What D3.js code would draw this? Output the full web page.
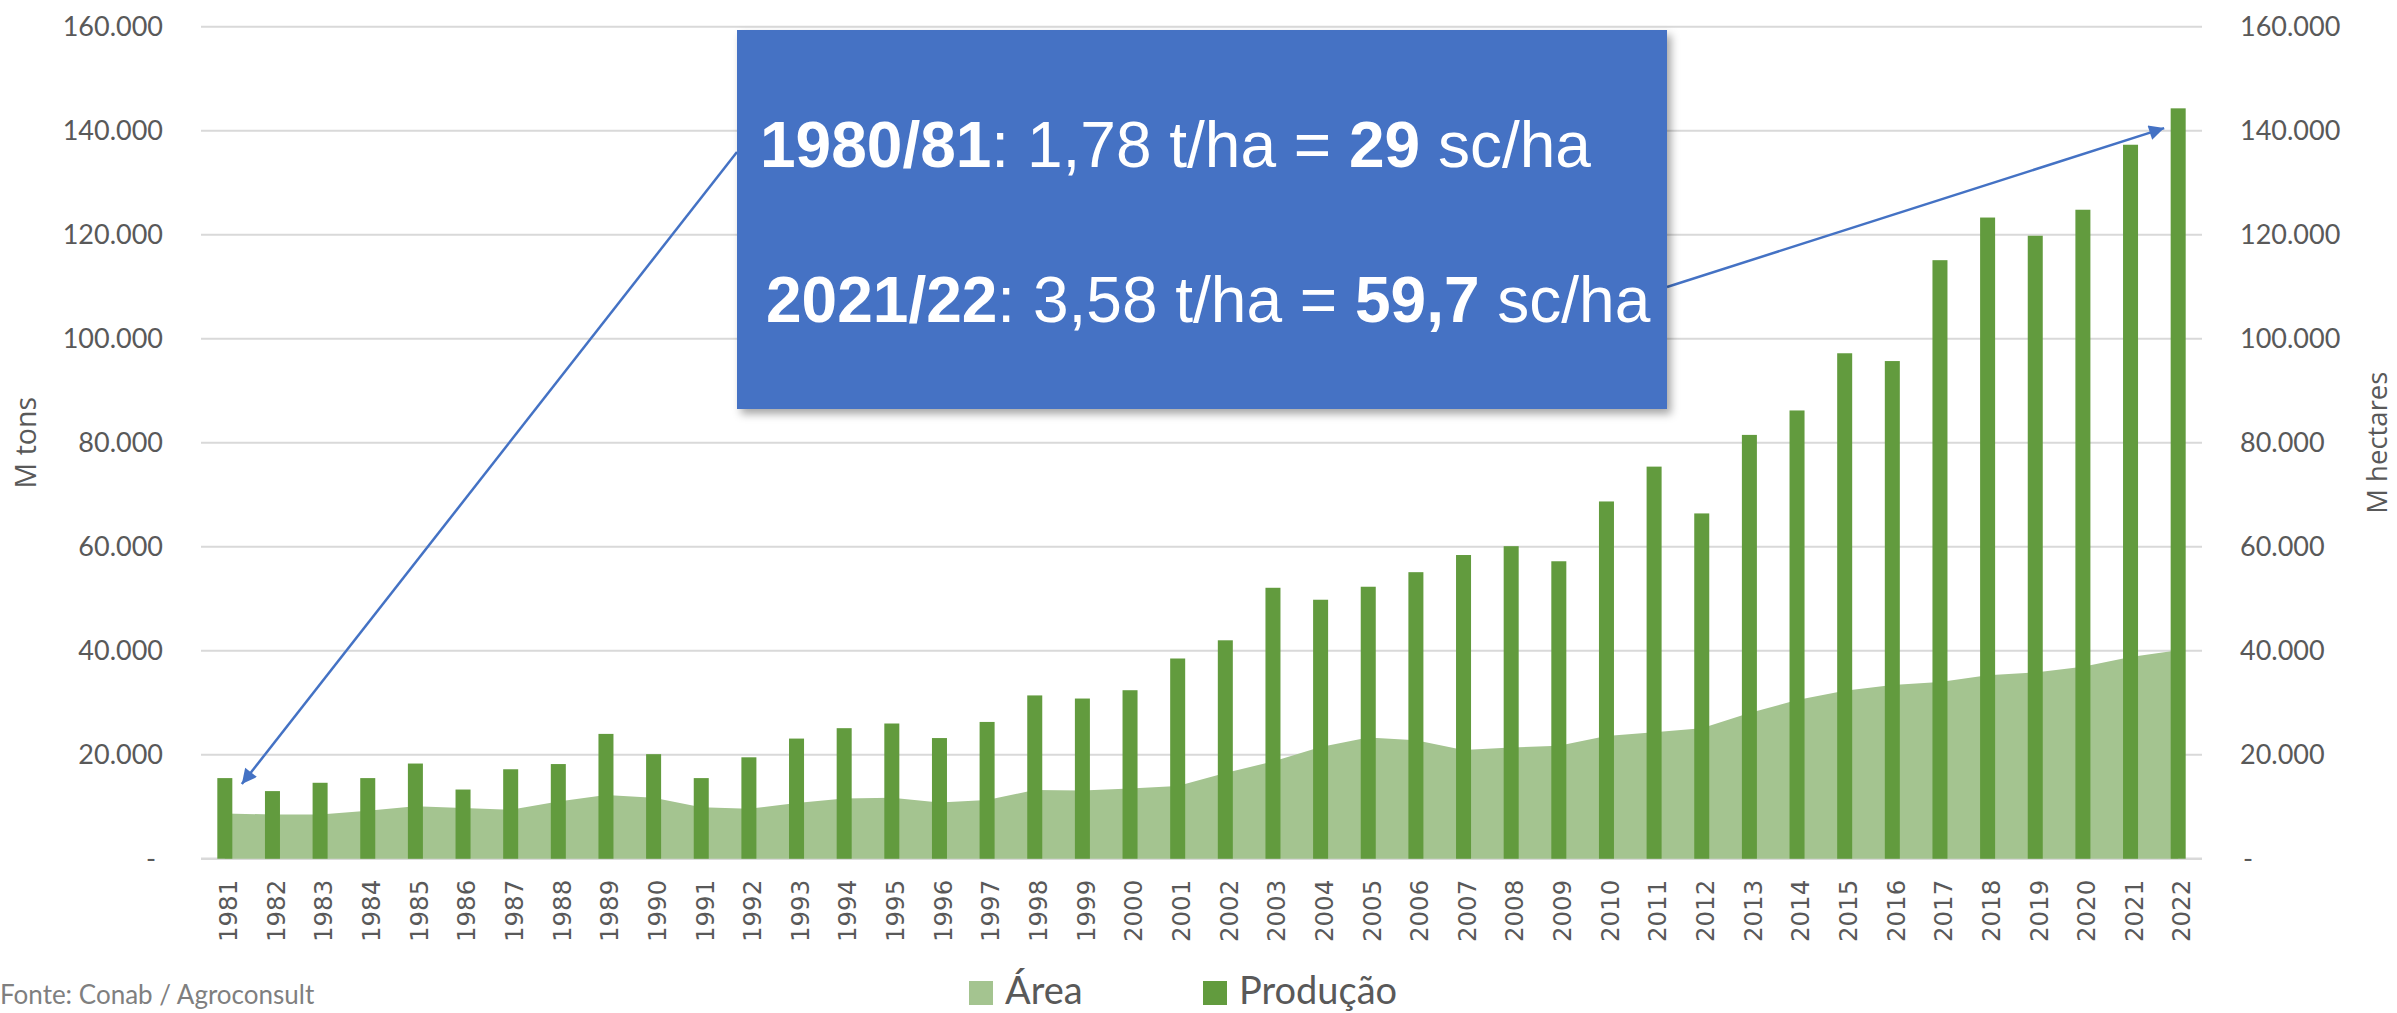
<!DOCTYPE html>
<html>
<head>
<meta charset="utf-8">
<script src="https://cdn.jsdelivr.net/npm/d3@7"></script>
<style>
  body { margin: 0; background: #ffffff; }
  svg { display: block; }
</style>
</head>
<body>
<div id="chart"></div>
<script>
// categories (safra years) and values
const years = [1981, 1982, 1983, 1984, 1985, 1986, 1987, 1988, 1989, 1990,
  1991, 1992, 1993, 1994, 1995, 1996, 1997, 1998, 1999, 2000,
  2001, 2002, 2003, 2004, 2005, 2006, 2007, 2008, 2009, 2010,
  2011, 2012, 2013, 2014, 2015, 2016, 2017, 2018, 2019, 2020,
  2021, 2022];

// Produção (mil t) - bars
const producao = [15500, 13000, 14600, 15500, 18300, 13300, 17200, 18200, 24000, 20100,
  15500, 19500, 23100, 25100, 26000, 23200, 26300, 31400, 30800, 32400,
  38500, 42000, 52100, 49800, 52300, 55100, 58400, 60100, 57200, 68700,
  75400, 66400, 81500, 86200, 97200, 95700, 115100, 123300, 119800, 124800,
  137300, 144300];

// Área (mil ha) - area
const area = [8700, 8500, 8500, 9200, 10100, 9750, 9400, 11000, 12250, 11700,
  9900, 9600, 10700, 11600, 11700, 10800, 11300, 13200, 13100, 13500,
  14000, 16500, 18700, 21500, 23300, 22800, 20900, 21400, 21700, 23600,
  24300, 25100, 28000, 30500, 32300, 33400, 34000, 35300, 35800, 36900,
  38800, 40100];

const yTicks = [0, 20000, 40000, 60000, 80000, 100000, 120000, 140000, 160000];
const legendNames = ['Área', 'Produção'];
const noteLines = [
  [['1980/81', true], [': 1,78 t/ha = ', false], ['29', true], [' sc/ha', false]],
  [['2021/22', true], [': 3,58 t/ha = ', false], ['59,7', true], [' sc/ha', false]]
];

const width = 2397;
const height = 1013;
const leftX = 201;
const rightX = 2202;
const topY = 26.7;
const bottomY = 858.7;

const barColor = '#629b3e';
const areaColor = '#a4c490';
const textColor = '#595959';
const boxColor = '#4472c4';

const svg = d3.select('#chart').append('svg')
  .attr('width', width).attr('height', height)
  .attr('viewBox', [0, 0, width, height]);

const x = d3.scaleBand().domain(years).range([leftX, rightX])
  .paddingInner(0.685).paddingOuter(0.3425);
const y = d3.scaleLinear().domain([0, 160000]).range([bottomY, topY]);
const cx = d => x(d) + x.bandwidth() / 2;

const fmt = d3.formatLocale({decimal: ',', thousands: '.', grouping: [3], currency: ['', '']}).format(',d');
const tickFmt = v => v === 0 ? '-' : fmt(v);

// gridlines
svg.append('g').selectAll('line').data(yTicks).enter().append('line')
  .attr('x1', leftX).attr('x2', rightX)
  .attr('y1', d => y(d)).attr('y2', d => y(d))
  .attr('stroke', '#d9d9d9')
  .attr('stroke-width', d => d === 0 ? 2.5 : 2);

// area series
const areaGen = d3.area()
  .x((d, i) => cx(years[i]))
  .y0(y(0))
  .y1(d => y(d));
svg.append('path').datum(area)
  .attr('d', areaGen)
  .attr('fill', areaColor);

// bars
svg.append('g').selectAll('rect').data(producao).enter().append('rect')
  .attr('x', (d, i) => x(years[i]))
  .attr('y', d => y(d))
  .attr('width', x.bandwidth())
  .attr('height', d => y(0) - y(d))
  .attr('fill', barColor);

// left axis
const yLeft = svg.append('g')
  .attr('transform', `translate(${leftX},0)`)
  .call(d3.axisLeft(y).tickValues(yTicks).tickSize(0).tickPadding(38).tickFormat(tickFmt));
yLeft.select('.domain').remove();
yLeft.selectAll('text')
  .attr('font-family', 'Lato, sans-serif').attr('font-size', 27).attr('fill', textColor)
  .attr('dx', d => d === 0 ? -7 : 0);

// right axis
const yRight = svg.append('g')
  .attr('transform', `translate(${rightX},0)`)
  .call(d3.axisRight(y).tickValues(yTicks).tickSize(0).tickPadding(38).tickFormat(tickFmt));
yRight.select('.domain').remove();
yRight.selectAll('text')
  .attr('font-family', 'Lato, sans-serif').attr('font-size', 27).attr('fill', textColor)
  .attr('dx', d => d === 0 ? 3 : 0);

// x axis with vertical years
const xAxis = svg.append('g')
  .attr('transform', `translate(0,${bottomY})`)
  .call(d3.axisBottom(x).tickSize(0));
xAxis.select('.domain').remove();
xAxis.selectAll('text')
  .attr('transform', 'rotate(-90)')
  .attr('x', -21).attr('y', 0).attr('dy', '0.5em')
  .style('text-anchor', 'end')
  .attr('font-family', '"DejaVu Sans", sans-serif').attr('font-size', 24.5).attr('fill', textColor);

// axis titles
svg.append('text')
  .attr('transform', `translate(36,${(topY + bottomY) / 2}) rotate(-90)`)
  .attr('text-anchor', 'middle')
  .attr('font-family', '"Open Sans", sans-serif').attr('font-size', 28.5).attr('fill', textColor)
  .text('M tons');
svg.append('text')
  .attr('transform', `translate(2387,${(topY + bottomY) / 2}) rotate(-90)`)
  .attr('text-anchor', 'middle')
  .attr('font-family', '"Open Sans", sans-serif').attr('font-size', 27.5).attr('fill', textColor)
  .text('M hectares');

// legend
const legend = svg.append('g').selectAll('g').data(legendNames).enter().append('g')
  .attr('transform', (d, i) => `translate(${[969, 1203][i]},981)`);
legend.append('rect').attr('width', 24).attr('height', 24)
  .attr('fill', (d, i) => [areaColor, barColor][i]);
legend.append('text').attr('x', 36).attr('y', 23)
  .attr('font-family', 'Lato, sans-serif').attr('font-size', 38).attr('fill', textColor)
  .text(d => d);

// source
svg.append('text').attr('x', 0).attr('y', 1004)
  .attr('font-family', 'Lato, sans-serif').attr('font-size', 26).attr('fill', '#7f7f7f')
  .text('Fonte: Conab / Agroconsult');

// arrows
const defs = svg.append('defs');
defs.append('marker').attr('id', 'head')
  .attr('viewBox', '0 0 10 10').attr('refX', 10).attr('refY', 5)
  .attr('markerWidth', 19).attr('markerHeight', 15)
  .attr('markerUnits', 'userSpaceOnUse').attr('orient', 'auto')
  .append('path').attr('d', 'M0,0 L10,5 L0,10 z').attr('fill', boxColor);

const shadow = defs.append('filter').attr('id', 'shadow')
  .attr('x', '-5%').attr('y', '-5%').attr('width', '115%').attr('height', '115%');
shadow.append('feDropShadow').attr('dx', 4).attr('dy', 5).attr('stdDeviation', 4)
  .attr('flood-color', '#000').attr('flood-opacity', 0.35);

const box = {x: 737, y: 30, w: 930, h: 379};
const arrows = [
  {x1: box.x, y1: 152, x2: cx(years[0]) + 17, y2: y(producao[0]) + 6},
  {x1: box.x + box.w, y1: 287, x2: cx(years[years.length - 1]) - 14, y2: y(140500)}
];
svg.append('g').selectAll('line').data(arrows).enter().append('line')
  .attr('x1', d => d.x1).attr('y1', d => d.y1)
  .attr('x2', d => d.x2).attr('y2', d => d.y2)
  .attr('stroke', boxColor).attr('stroke-width', 2.5)
  .attr('marker-end', 'url(#head)');

// annotation box
svg.append('rect')
  .attr('x', box.x).attr('y', box.y).attr('width', box.w).attr('height', box.h)
  .attr('fill', boxColor).attr('filter', 'url(#shadow)');

const note = svg.append('g').selectAll('text').data(noteLines).enter().append('text')
  .attr('x', (d, i) => [760, 766][i])
  .attr('y', (d, i) => [167, 322][i])
  .attr('font-family', '"Liberation Sans", Arial, sans-serif')
  .attr('font-size', 64).attr('fill', '#ffffff');
note.selectAll('tspan').data(d => d).enter().append('tspan')
  .attr('font-weight', d => d[1] ? 'bold' : 'normal')
  .style('white-space', 'pre')
  .text(d => d[0]);
</script>
</body>
</html>
